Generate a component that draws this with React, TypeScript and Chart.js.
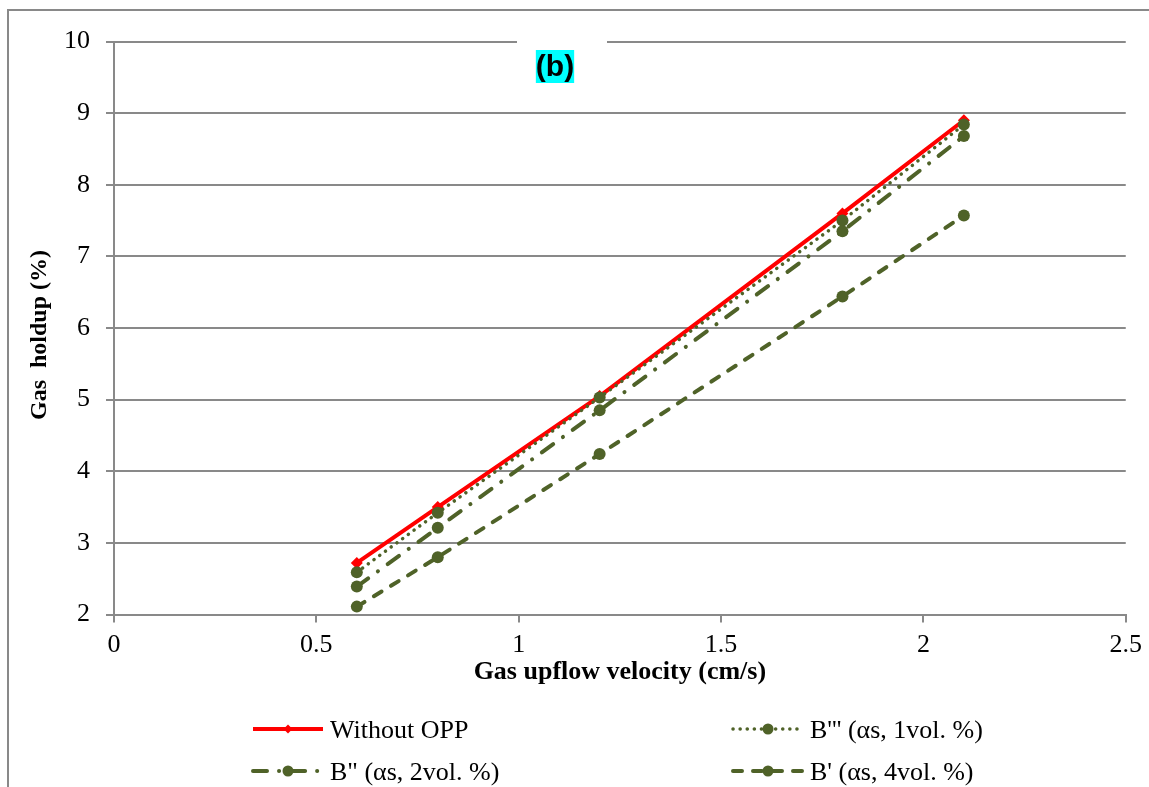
import React, { useEffect, useRef } from "react";
import { Chart, registerables } from "chart.js";

Chart.register(...registerables);

// ---- Data ----
const xValues = [0.6, 0.8, 1.2, 1.8, 2.1];
const withoutOPP = [2.72, 3.5, 5.05, 7.6, 8.9];
const bTriple = [2.59, 3.42, 5.03, 7.5, 8.84];
const bDouble = [2.39, 3.21, 4.85, 7.35, 8.68];
const bSingle = [2.11, 2.8, 4.24, 6.44, 7.57];

const seriesLabels = [
  "Without OPP",
  "B''' (αs, 1vol. %)",
  'B" (αs, 2vol. %)',
  "B' (αs, 4vol. %)",
];

const xTitle = "Gas upflow velocity (cm/s)";
const yTitle = "Gas  holdup (%)";
const chartTitle = "(b)";

const xMin = 0;
const xMax = 2.5;
const xStep = 0.5;
const yMin = 2;
const yMax = 10;
const yStep = 1;

// ---- Styles ----
const RED = "#FF0000";
const OLIVE = "#4F6228";
const GRID = "#898989";
const SERIF = "'Liberation Serif', 'Times New Roman', serif";
const SANS = "'Liberation Sans', Arial, sans-serif";

const toPoints = (ys: number[]) => xValues.map((x, i) => ({ x, y: ys[i] }));
const fmt = (v: any) => String(Math.round(Number(v) * 100) / 100);

const decorPlugin = {
  id: "decor",
  beforeDraw(chart: any) {
    const ctx = chart.ctx;
    ctx.save();
    ctx.fillStyle = "#ffffff";
    ctx.fillRect(0, 0, chart.width, chart.height);
    ctx.strokeStyle = GRID;
    ctx.lineWidth = 2;
    ctx.beginPath();
    ctx.moveTo(8, chart.height);
    ctx.lineTo(8, 10);
    ctx.lineTo(chart.width, 10);
    ctx.stroke();
    ctx.restore();
  },
  afterDraw(chart: any) {
    const ctx = chart.ctx;
    const area = chart.chartArea;
    ctx.save();
    // title box
    ctx.fillStyle = "#ffffff";
    ctx.fillRect(517, 28, 90, 64);
    ctx.font = `bold 30px ${SANS}`;
    const tw = ctx.measureText(chartTitle).width;
    const cx = 555;
    ctx.fillStyle = "#00FFFF";
    ctx.fillRect(cx - tw / 2, 50, tw, 33);
    ctx.fillStyle = "#000000";
    ctx.textAlign = "center";
    ctx.textBaseline = "alphabetic";
    ctx.fillText(chartTitle, cx, 76);

    // axis titles
    ctx.font = `bold 26px ${SERIF}`;
    ctx.fillText(xTitle, (area.left + area.right) / 2, 679);
    ctx.save();
    ctx.translate(46, 335);
    ctx.rotate(-Math.PI / 2);
    ctx.font = `bold 24px ${SERIF}`;
    ctx.fillText(yTitle, 0, 0);
    ctx.restore();

    // legend
    const colX = [253, 733];
    const rowY = [729, 771];
    chart.data.datasets.forEach((ds: any, i: number) => {
      const col = i % 2;
      const row = Math.floor(i / 2);
      const x0 = colX[col];
      const x1 = x0 + 70;
      const y = rowY[row];
      ctx.save();
      ctx.strokeStyle = ds.borderColor;
      ctx.lineWidth = ds.borderWidth;
      ctx.lineCap = ds.borderCapStyle || "butt";
      ctx.setLineDash(ds.borderDash || []);
      ctx.lineDashOffset = ds.legendDashOffset || 0;
      ctx.beginPath();
      ctx.moveTo(x0, y);
      ctx.lineTo(x1, y);
      ctx.stroke();
      ctx.setLineDash([]);
      const mx = (x0 + x1) / 2;
      ctx.fillStyle = ds.pointBackgroundColor;
      ctx.beginPath();
      if (ds.pointStyle === "rectRot") {
        const r = 4.5;
        ctx.moveTo(mx, y - r);
        ctx.lineTo(mx + r, y);
        ctx.lineTo(mx, y + r);
        ctx.lineTo(mx - r, y);
        ctx.closePath();
      } else {
        ctx.arc(mx, y, 5.5, 0, Math.PI * 2);
      }
      ctx.fill();
      ctx.fillStyle = "#000000";
      ctx.font = `26px ${SERIF}`;
      ctx.textAlign = "left";
      ctx.textBaseline = "alphabetic";
      ctx.fillText(ds.label, x1 + 7, y + 8.5);
      ctx.restore();
    });
    ctx.restore();
  },
};

export default function App() {
  const canvasRef = useRef<HTMLCanvasElement | null>(null);

  useEffect(() => {
    const canvas = canvasRef.current;
    if (!canvas) return;
    const chart = new Chart(canvas, {
      type: "line",
      data: {
        datasets: [
          {
            label: seriesLabels[0],
            data: toPoints(withoutOPP),
            borderColor: RED,
            backgroundColor: RED,
            pointBackgroundColor: RED,
            pointBorderColor: RED,
            borderWidth: 4,
            pointStyle: "rectRot",
            pointRadius: 6,
            pointBorderWidth: 0,
            order: 10,
          },
          {
            label: seriesLabels[1],
            data: toPoints(bTriple),
            borderColor: OLIVE,
            backgroundColor: OLIVE,
            pointBackgroundColor: OLIVE,
            pointBorderColor: OLIVE,
            borderWidth: 3.5,
            borderDash: [0.1, 7],
            borderCapStyle: "round",
            pointStyle: "circle",
            pointRadius: 6,
            pointBorderWidth: 0,
            order: 3,
          },
          {
            label: seriesLabels[2],
            data: toPoints(bDouble),
            borderColor: OLIVE,
            backgroundColor: OLIVE,
            pointBackgroundColor: OLIVE,
            pointBorderColor: OLIVE,
            borderWidth: 4,
            borderDash: [14, 12, 0.1, 12],
            borderCapStyle: "round",
            pointStyle: "circle",
            pointRadius: 6,
            pointBorderWidth: 0,
            legendDashOffset: 0,
            order: 2,
          },
          {
            label: seriesLabels[3],
            data: toPoints(bSingle),
            borderColor: OLIVE,
            backgroundColor: OLIVE,
            pointBackgroundColor: OLIVE,
            pointBorderColor: OLIVE,
            borderWidth: 4,
            borderDash: [9, 11],
            borderCapStyle: "round",
            pointStyle: "circle",
            pointRadius: 6,
            pointBorderWidth: 0,
            order: 1,
          },
        ] as any,
      },
      options: {
        responsive: false,
        animation: false,
        devicePixelRatio: 1,
        layout: { padding: { left: 0, top: 41.5, right: 22, bottom: 0 } },
        plugins: {
          legend: { display: false },
          title: { display: false },
          tooltip: { enabled: false },
        },
        elements: { line: { tension: 0 } },
        scales: {
          x: {
            type: "linear",
            min: xMin,
            max: xMax,
            afterFit: (scale: any) => {
              scale.height = 172.5;
            },
            ticks: {
              stepSize: xStep,
              padding: 7,
              color: "#000000",
              font: { family: SERIF, size: 26 },
              maxRotation: 0,
              callback: fmt,
            },
            grid: {
              drawOnChartArea: false,
              drawTicks: true,
              tickLength: 8,
              color: GRID,
              lineWidth: 2,
            },
            border: { display: true, color: GRID, width: 2 },
          },
          y: {
            type: "linear",
            min: yMin,
            max: yMax,
            afterFit: (scale: any) => {
              scale.width = 114;
            },
            ticks: {
              stepSize: yStep,
              padding: 16,
              color: "#000000",
              font: { family: SERIF, size: 26 },
              callback: fmt,
            },
            grid: {
              drawOnChartArea: true,
              drawTicks: true,
              tickLength: 8,
              color: GRID,
              lineWidth: 2,
            },
            border: { display: true, color: GRID, width: 2 },
          },
        },
      } as any,
      plugins: [decorPlugin],
    });
    return () => chart.destroy();
  }, []);

  return (
    <canvas
      ref={canvasRef}
      width={1149}
      height={787}
      style={{ position: "fixed", left: 0, top: 0, width: "1149px", height: "787px", display: "block" }}
    />
  );
}
